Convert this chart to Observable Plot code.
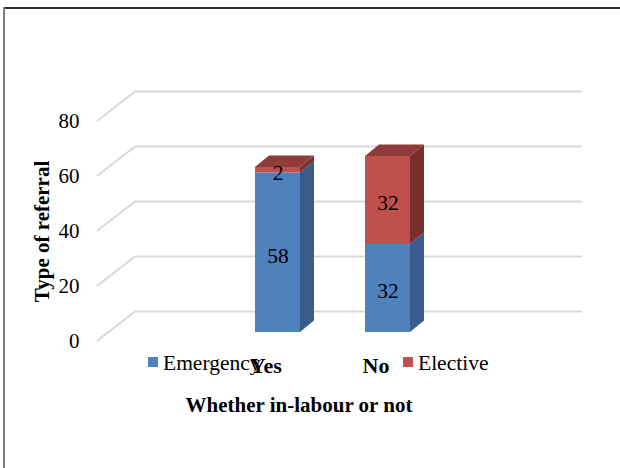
<!DOCTYPE html>
<html><head><meta charset="utf-8">
<script src="https://cdn.jsdelivr.net/npm/d3@7"></script>
<script src="https://cdn.jsdelivr.net/npm/@observablehq/plot@0.6"></script>
<style>
body{margin:0;background:#fff;}
#wrap{position:relative;width:620px;height:468px;overflow:hidden;background:#fff;}
#wrap svg{position:absolute;left:0;top:0;}
.bt{position:absolute;left:3px;top:7px;width:617px;height:0;border-top:2px solid #303030;z-index:2;}
.bl{position:absolute;left:3px;top:7px;width:0;height:461px;border-left:2px solid #7f7f7f;z-index:2;}
</style></head><body><div id="wrap"><div class="bt"></div><div class="bl"></div></div>
<script>
// ---- data ----
const categories = ["Yes", "No"];
const seriesNames = ["Emergency", "Elective"];
const emergency = [58, 32];
const elective = [2, 32];
const yTicks = [0, 20, 40, 60, 80];
const xTitle = "Whether in-labour or not";
const yTitle = "Type of referral";

// ---- style config ----
const seriesColors = ["#4f81bd", "#c0504d"];
const sideColors = ["#385d8a", "#7b2f2d"];
const topColors = ["#41689a", "#8f3b39"];
const WALL = {dx: 38, dy: -29.5};
const BAR_OFF = {dx: 12, dy: -9};
const BAR_DEPTH = {dx: 14, dy: -11.5};
const FONT = "'Liberation Serif', 'Times New Roman', serif";

const seriesValues = [emergency, elective];
const rows = [];
seriesNames.forEach((s, si) => categories.forEach((c, ci) =>
  rows.push({category: c, series: s, value: seriesValues[si][ci]})));

const stacks = categories.map((c, ci) => {
  let base = 0;
  return seriesValues.map((arr, si) => {
    const seg = {category: c, si, y1: base, y2: base + arr[ci]};
    base += arr[ci];
    return seg;
  });
});

function grid(index, scales, values, dims) {
  const g = d3.create("svg:g");
  const x0 = dims.marginLeft, x1 = dims.width - dims.marginRight;
  for (const t of yTicks) {
    const yy = scales.y(t);
    g.append("path")
      .attr("d", `M${x0},${yy}L${x0 + WALL.dx},${yy + WALL.dy}L${x1 + WALL.dx},${yy + WALL.dy}`)
      .attr("fill", "none").attr("stroke", "#d9d9d9").attr("stroke-width", 2);
  }
  return g.node();
}

function faces(index, scales, values, dims) {
  const g = d3.create("svg:g");
  const bw = scales.x.bandwidth ? scales.x.bandwidth() : 45;
  for (const stack of stacks) {
    const xl = scales.x(stack[0].category) + BAR_OFF.dx;
    const xr = xl + bw;
    stack.forEach((seg, k) => {
      const yb = scales.y(seg.y1) + BAR_OFF.dy;
      const yt = scales.y(seg.y2) + BAR_OFF.dy;
      g.append("path")
        .attr("d", `M${xr},${yb}L${xr + BAR_DEPTH.dx},${yb + BAR_DEPTH.dy}L${xr + BAR_DEPTH.dx},${yt + BAR_DEPTH.dy}L${xr},${yt}Z`)
        .attr("fill", sideColors[seg.si]);
      if (k === stack.length - 1) {
        g.append("path")
          .attr("d", `M${xl},${yt}L${xl + BAR_DEPTH.dx},${yt + BAR_DEPTH.dy}L${xr + BAR_DEPTH.dx},${yt + BAR_DEPTH.dy}L${xr},${yt}Z`)
          .attr("fill", topColors[seg.si]);
      }
    });
  }
  return g.node();
}

function legend(index, scales, values, dims) {
  const g = d3.create("svg:g")
    .style("font-family", FONT).style("font-size", "21.5px")
    .attr("text-anchor", "start");
  const pos = [{x: 148, tx: 163}, {x: 403, tx: 418}];
  seriesNames.forEach((s, i) => {
    g.append("rect").attr("x", pos[i].x).attr("y", 357).attr("width", 10).attr("height", 10)
      .attr("fill", scales.color ? scales.color(s) : seriesColors[i]);
    g.append("text").attr("x", pos[i].tx).attr("y", 370).attr("fill", "#000").text(s);
  });
  return g.node();
}

const chart = Plot.plot({
  width: 620, height: 468,
  marginLeft: 97, marginRight: 76, marginTop: 121, marginBottom: 127,
  style: {fontFamily: FONT, fontSize: "21px", color: "#000", background: "transparent"},
  x: {domain: categories, paddingInner: 0.59, paddingOuter: 1.31, label: null, axis: null},
  y: {domain: [0, 80], label: null, axis: null},
  color: {domain: seriesNames, range: seriesColors},
  marks: [
    grid,
    faces,
    Plot.barY(rows, {x: "category", y: "value", fill: "series", dx: BAR_OFF.dx, dy: BAR_OFF.dy, inset: 0}),
    Plot.text(rows, Plot.stackY({x: "category", y: "value", text: "value", dx: BAR_OFF.dx, dy: BAR_OFF.dy + 3, fontSize: 21.5, fill: "#000"})),
    legend,
    Plot.axisY({ticks: yTicks, tickSize: 0, tickPadding: 18, fontSize: 21, label: null}),
    Plot.axisX({tickSize: 0, tickPadding: 16, fontWeight: "bold", fontSize: 22, label: null}),
    Plot.text([yTitle], {text: d => d, frameAnchor: "left", textAnchor: "middle", lineAnchor: "middle", rotate: -90, dx: -55, fontWeight: "bold", fontSize: 21, fill: "#000"}),
    Plot.text([xTitle], {text: d => d, frameAnchor: "bottom", textAnchor: "middle", lineAnchor: "middle", dx: -22, dy: 64, fontWeight: "bold", fontSize: 21, fill: "#000"})
  ]
});

document.getElementById("wrap").appendChild(chart);
</script>
</body></html>
